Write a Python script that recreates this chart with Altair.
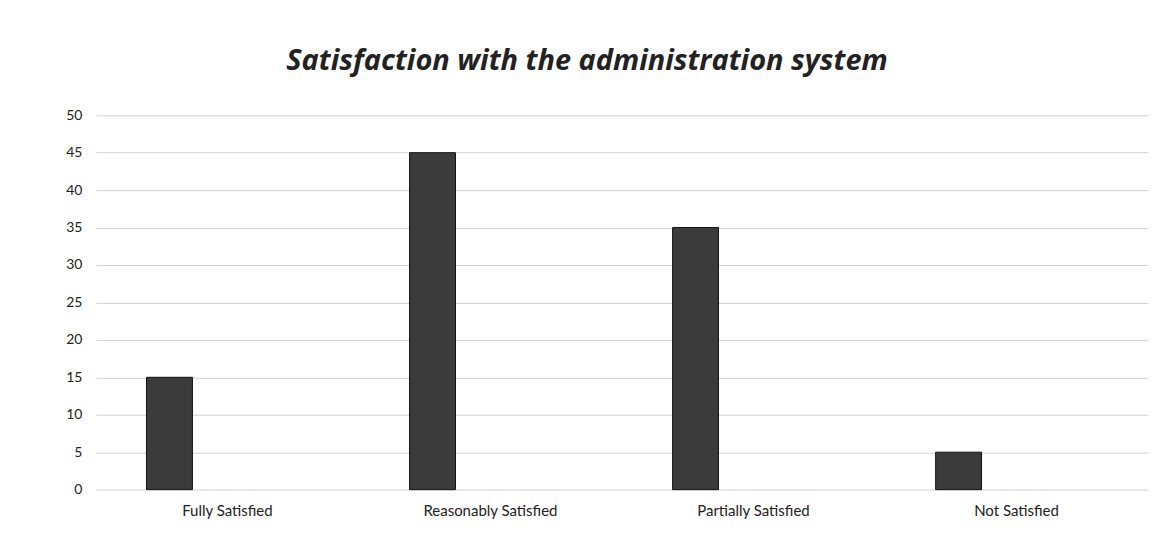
import altair as alt
import pandas as pd

categories = ["Fully Satisfied", "Reasonably Satisfied", "Partially Satisfied", "Not Satisfied"]
values = [15, 45, 35, 5]
y_ticks = [0, 5, 10, 15, 20, 25, 30, 35, 40, 45, 50]

df = pd.DataFrame({"category": categories, "value": values})

FONT = "Lato"

chart = alt.Chart(df).mark_bar(
    color="#3b3b3b", stroke="#111111", strokeWidth=1, size=46, xOffset=-58
).encode(
    x=alt.X("category:N", sort=categories, title=None,
            scale=alt.Scale(paddingInner=0, paddingOuter=0),
            axis=alt.Axis(labelAngle=0, labelFontSize=15, labelPadding=14, grid=False,
                          labelColor="#222222", ticks=False, domain=False, labelFont=FONT)),
    y=alt.Y("value:Q", title=None,
            scale=alt.Scale(domain=[0, 50], nice=False),
            axis=alt.Axis(values=y_ticks, labelFontSize=14, labelPadding=14,
                          labelColor="#222222", ticks=False, domain=False,
                          gridColor="#d2d2d2", gridWidth=1, labelFont=FONT))
).properties(
    width=1054,
    height=375,
    background="white",
    autosize=alt.AutoSizeParams(type="none"),
    padding={"left": 88, "top": 107, "right": 10, "bottom": 40},
    title=alt.TitleParams(
        "Satisfaction with the administration system",
        fontSize=29, font="Open Sans", fontWeight="bold", fontStyle="italic",
        color="#222222", anchor="middle", offset=32, dx=-35
    )
).configure_view(strokeWidth=0, stroke="transparent")

chart.save("out.html", embed_options={"renderer": "svg", "actions": False})
